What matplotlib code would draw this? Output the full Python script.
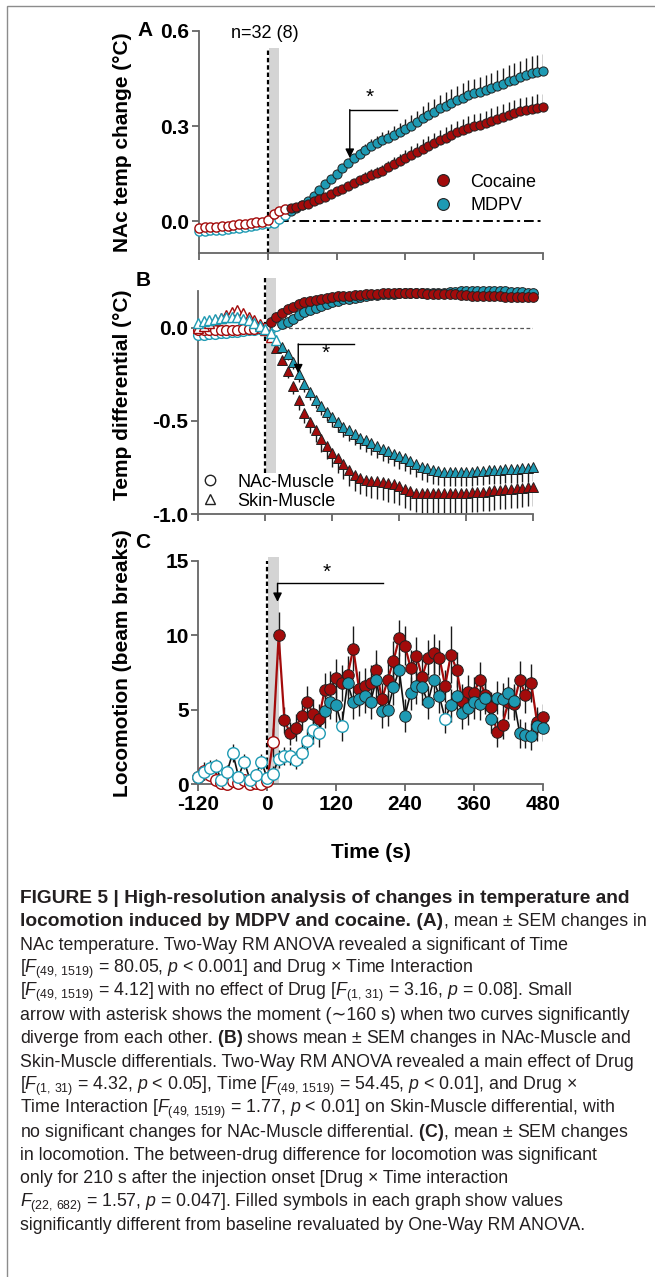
import numpy as np
import matplotlib
matplotlib.use("Agg")
import matplotlib.pyplot as plt
from matplotlib.lines import Line2D
from matplotlib.patches import Rectangle

plt.rcParams['font.family'] = ['Liberation Sans', 'DejaVu Sans']
plt.rcParams['axes.unicode_minus'] = False
plt.rcParams['mathtext.fontset'] = 'custom'
plt.rcParams['mathtext.rm'] = 'Liberation Sans'
plt.rcParams['mathtext.it'] = 'Liberation Sans:italic'
plt.rcParams['mathtext.bf'] = 'Liberation Sans:bold'

# ---------------- data ----------------
TIME = list(range(-120, 481, 10))          # 10-s bins
XTICKS = [-120, 0, 120, 240, 360, 480]

# Panel A: NAc temperature change (deg C)
A_COC = [-0.020, -0.019, -0.018, -0.017, -0.015, -0.014, -0.012, -0.010, -0.008, -0.006, -0.003, -0.001,
         0.003, 0.022, 0.032, 0.038, 0.041, 0.046, 0.050, 0.056, 0.063, 0.071,
         0.078, 0.086, 0.094, 0.102, 0.111, 0.120, 0.129, 0.138, 0.147, 0.153,
         0.160, 0.170, 0.180, 0.189, 0.199, 0.209, 0.219, 0.229, 0.238, 0.246,
         0.255, 0.263, 0.272, 0.281, 0.288, 0.295, 0.300, 0.305, 0.311, 0.317,
         0.323, 0.329, 0.336, 0.342, 0.347, 0.351, 0.354, 0.357, 0.359]
A_COC_SEM = [0.004] * 12 + [
         0.004, 0.004, 0.004, 0.004, 0.004, 0.004, 0.005, 0.006, 0.007, 0.008,
         0.009, 0.010, 0.011, 0.012, 0.013, 0.014, 0.015, 0.016, 0.017, 0.018,
         0.019, 0.020, 0.022, 0.024, 0.026, 0.027, 0.029, 0.030, 0.031, 0.032,
         0.033, 0.034, 0.035, 0.036, 0.036, 0.037, 0.037, 0.038, 0.038, 0.039,
         0.039, 0.040, 0.040, 0.041, 0.041, 0.042, 0.042, 0.043, 0.043]
A_MDPV = [-0.032, -0.031, -0.029, -0.028, -0.026, -0.024, -0.022, -0.020, -0.017, -0.014, -0.011, -0.008,
          -0.006, -0.004, 0.008, 0.020, 0.032, 0.042, 0.052, 0.065, 0.080, 0.100,
          0.118, 0.134, 0.150, 0.168, 0.184, 0.198, 0.211, 0.225, 0.238, 0.248,
          0.256, 0.263, 0.272, 0.281, 0.291, 0.302, 0.313, 0.325, 0.336, 0.346,
          0.356, 0.365, 0.374, 0.382, 0.390, 0.397, 0.403, 0.408, 0.414, 0.420,
          0.427, 0.434, 0.441, 0.447, 0.454, 0.461, 0.467, 0.470, 0.474]
A_MDPV_SEM = [0.004] * 12 + [
          0.004, 0.004, 0.004, 0.005, 0.005, 0.006, 0.006, 0.007, 0.007, 0.008,
          0.009, 0.010, 0.011, 0.012, 0.013, 0.014, 0.016, 0.018, 0.020, 0.022,
          0.024, 0.026, 0.028, 0.030, 0.032, 0.034, 0.036, 0.038, 0.040, 0.041,
          0.042, 0.043, 0.044, 0.045, 0.046, 0.047, 0.047, 0.048, 0.048, 0.049,
          0.050, 0.050, 0.051, 0.052, 0.052, 0.053, 0.054, 0.054, 0.055]
A_COC_SIG_FROM = 40
A_MDPV_SIG_FROM = 40

# Panel B: temperature differentials (deg C)
B_COC_NAC = [-0.012, -0.013, -0.013, -0.012, -0.011, -0.010, -0.010, -0.009, -0.008, -0.007, -0.005, -0.003,
             0.000, 0.030, 0.060, 0.082, 0.100, 0.115, 0.128, 0.138, 0.146, 0.152,
             0.158, 0.163, 0.166, 0.169, 0.171, 0.173, 0.175, 0.178, 0.180, 0.182,
             0.184, 0.185, 0.186, 0.186, 0.187, 0.186, 0.186, 0.185, 0.185, 0.184,
             0.184, 0.183, 0.182, 0.181, 0.180, 0.178, 0.176, 0.174, 0.173, 0.172,
             0.171, 0.170, 0.169, 0.168, 0.167, 0.166, 0.166, 0.165, 0.165]
B_MDPV_NAC = [-0.038, -0.036, -0.034, -0.032, -0.030, -0.027, -0.024, -0.021, -0.017, -0.013, -0.009, -0.005,
              -0.002, 0.000, 0.010, 0.022, 0.034, 0.050, 0.068, 0.083, 0.096, 0.107,
              0.118, 0.129, 0.138, 0.146, 0.153, 0.158, 0.163, 0.168, 0.172, 0.176,
              0.179, 0.181, 0.183, 0.184, 0.185, 0.186, 0.186, 0.187, 0.187, 0.188,
              0.188, 0.189, 0.190, 0.192, 0.194, 0.196, 0.197, 0.198, 0.198, 0.198,
              0.197, 0.197, 0.197, 0.196, 0.195, 0.194, 0.192, 0.190, 0.188]
B_COC_SKIN = [0.000, 0.010, 0.025, 0.040, 0.055, 0.070, 0.085, 0.095, 0.080, 0.060, 0.040, 0.020,
              -0.010, -0.050, -0.110, -0.170, -0.230, -0.310, -0.390, -0.455, -0.505, -0.550,
              -0.595, -0.635, -0.670, -0.700, -0.730, -0.765, -0.790, -0.805, -0.815, -0.820,
              -0.825, -0.830, -0.835, -0.840, -0.850, -0.865, -0.878, -0.885, -0.889, -0.889,
              -0.889, -0.889, -0.889, -0.889, -0.889, -0.888, -0.886, -0.884, -0.882, -0.880,
              -0.876, -0.873, -0.870, -0.868, -0.866, -0.862, -0.860, -0.856, -0.853]
B_MDPV_SKIN = [0.025, 0.035, 0.045, 0.050, 0.055, 0.058, 0.060, 0.058, 0.050, 0.040, 0.025, 0.010,
               -0.005, -0.030, -0.065, -0.100, -0.140, -0.185, -0.250, -0.300, -0.345, -0.385,
               -0.420, -0.450, -0.480, -0.505, -0.530, -0.550, -0.570, -0.590, -0.605, -0.620,
               -0.635, -0.650, -0.660, -0.675, -0.690, -0.700, -0.715, -0.730, -0.745, -0.755,
               -0.765, -0.770, -0.772, -0.773, -0.773, -0.773, -0.773, -0.772, -0.770, -0.768,
               -0.766, -0.764, -0.762, -0.760, -0.758, -0.756, -0.754, -0.752, -0.750]
B_COC_SKIN_SEM = [0.015] * 12 + [
              0.015, 0.020, 0.025, 0.030, 0.040, 0.045, 0.050, 0.055, 0.060, 0.065,
              0.070, 0.072, 0.075, 0.078, 0.080, 0.082, 0.085, 0.087, 0.090, 0.092,
              0.094, 0.096, 0.098, 0.100, 0.100, 0.102, 0.103, 0.104, 0.105, 0.105,
              0.106, 0.106, 0.107, 0.107, 0.107, 0.107, 0.107, 0.107, 0.106, 0.106,
              0.106, 0.105, 0.105, 0.105, 0.104, 0.104, 0.104, 0.103, 0.103]
B_MDPV_SKIN_SEM = [0.015] * 12 + [
              0.015, 0.015, 0.020, 0.025, 0.030, 0.035, 0.040, 0.042, 0.045, 0.048,
              0.050, 0.052, 0.054, 0.055, 0.056, 0.058, 0.060, 0.061, 0.062, 0.063,
              0.064, 0.065, 0.066, 0.067, 0.068, 0.069, 0.070, 0.071, 0.072, 0.073,
              0.074, 0.074, 0.075, 0.075, 0.075, 0.075, 0.075, 0.075, 0.075, 0.075,
              0.075, 0.075, 0.075, 0.075, 0.075, 0.075, 0.075, 0.075, 0.075]
B_COC_NAC_SIG_FROM = 10
B_MDPV_NAC_SIG_FROM = 30
B_COC_SKIN_SIG_FROM = 20
B_MDPV_SKIN_SIG_FROM = 30

# Panel C: locomotion (beam breaks)
C_COC = [0.5, 0.9, 0.6, 0.3, 0.1, 0.0, 0.2, 0.1, 0.3, 0.0, 0.1, 0.0,
         0.2, 2.8, 10.0, 4.3, 3.4, 3.8, 4.6, 5.5, 4.7, 4.4,
         6.3, 6.4, 7.1, 6.8, 7.3, 9.1, 6.4, 6.6, 6.8, 7.7,
         5.7, 7.0, 8.3, 9.8, 9.3, 7.8, 8.6, 7.2, 8.5, 8.8,
         8.5, 6.6, 8.7, 7.7, 5.6, 6.2, 6.1, 7.0, 6.0, 5.2,
         3.5, 4.0, 5.5, 5.4, 7.0, 6.0, 6.8, 4.2, 4.5]
C_COC_SEM = [0.4, 0.6, 0.4, 0.3, 0.2, 0.1, 0.3, 0.2, 0.3, 0.1, 0.2, 0.1,
             0.3, 1.0, 1.6, 0.9, 0.8, 0.9, 1.0, 1.1, 1.0, 1.0,
             1.2, 1.2, 1.3, 1.2, 1.3, 1.5, 1.2, 1.2, 1.2, 1.3,
             1.1, 1.2, 1.3, 1.2, 1.3, 1.2, 1.3, 1.2, 1.2, 1.3,
             1.2, 1.1, 1.9, 1.2, 1.1, 1.1, 1.1, 1.2, 1.1, 1.0,
             1.0, 1.0, 1.1, 1.1, 1.3, 1.2, 1.3, 1.0, 0.9]
C_MDPV = [0.5, 0.8, 1.1, 1.2, 0.3, 0.8, 2.1, 0.5, 1.5, 0.3, 0.6, 1.5,
          0.4, 0.7, 1.7, 1.9, 1.9, 1.6, 2.1, 2.9, 3.6, 3.4,
          4.9, 5.5, 5.3, 3.9, 6.8, 5.5, 5.7, 5.9, 5.5, 7.0,
          4.9, 5.0, 6.5, 7.7, 4.6, 6.1, 6.6, 6.5, 5.5, 7.0,
          5.9, 4.4, 5.3, 5.9, 4.8, 5.1, 5.5, 5.4, 5.8, 4.4,
          5.8, 5.7, 6.1, 5.6, 3.4, 3.3, 3.2, 3.9, 3.8]
C_MDPV_SEM = [0.4, 0.5, 0.5, 0.5, 0.3, 0.5, 0.6, 0.4, 0.5, 0.3, 0.4, 0.5,
              0.4, 0.5, 0.6, 0.6, 0.6, 0.6, 0.7, 0.8, 0.9, 0.9,
              1.1, 1.1, 1.1, 1.0, 1.2, 1.1, 1.1, 1.1, 1.1, 1.2,
              1.1, 1.1, 1.2, 1.2, 1.1, 1.1, 1.2, 1.2, 1.1, 1.2,
              1.1, 1.0, 1.1, 1.1, 1.1, 1.1, 1.1, 1.1, 1.1, 1.0,
              1.1, 1.1, 1.1, 1.1, 1.0, 0.9, 0.9, 1.0, 0.9]
C_COC_SIG_FROM = 20
C_MDPV_SIG_FROM = 100
C_MDPV_OPEN_AFTER = [130, 310]

CAPTION = [
    [("FIGURE 5 | High-resolution analysis of changes in temperature and", 'bold')],
    [("locomotion induced by MDPV and cocaine. (A)", 'bold'), (", mean ± SEM changes in", 'normal')],
    [("NAc temperature. Two-Way RM ANOVA revealed a significant of Time", 'normal')],
    [(r"[$F_{(49,\,1519)}$ = 80.05, $p$ < 0.001] and Drug × Time Interaction", 'normal')],
    [(r"[$F_{(49,\,1519)}$ = 4.12] with no effect of Drug [$F_{(1,\,31)}$ = 3.16, $p$ = 0.08]. Small", 'normal')],
    [("arrow with asterisk shows the moment (∼160 s) when two curves significantly", 'normal')],
    [(r"diverge from each other. $\mathbf{(B)}$ shows mean ± SEM changes in NAc-Muscle and", 'normal')],
    [("Skin-Muscle differentials. Two-Way RM ANOVA revealed a main effect of Drug", 'normal')],
    [(r"[$F_{(1,\,31)}$ = 4.32, $p$ < 0.05], Time [$F_{(49,\,1519)}$ = 54.45, $p$ < 0.01], and Drug ×", 'normal')],
    [(r"Time Interaction [$F_{(49,\,1519)}$ = 1.77, $p$ < 0.01] on Skin-Muscle differential, with", 'normal')],
    [(r"no significant changes for NAc-Muscle differential. $\mathbf{(C)}$, mean ± SEM changes", 'normal')],
    [("in locomotion. The between-drug difference for locomotion was significant", 'normal')],
    [("only for 210 s after the injection onset [Drug × Time interaction", 'normal')],
    [(r"$F_{(22,\,682)}$ = 1.57, $p$ = 0.047]. Filled symbols in each graph show values", 'normal')],
    [("significantly different from baseline revaluated by One-Way RM ANOVA.", 'normal')],
]
CAPTION_RIGHT = [632, 643, 509, 465, 568, 644, 645, 650, 578, 649, 648, 583, 493, 563, 597]

# ---------------- style ----------------
RED = '#a30b0b'
TEAL = '#1e9ab3'
EDGE = '#222222'
SPINE = '#666666'
TXT = '#231f20'
W, H = 655, 1277

fig = plt.figure(figsize=(W / 100, H / 100), dpi=100)
fig.patches.append(Rectangle((7 / W, -0.02), 1.2, 1 - 6 / H + 0.02, transform=fig.transFigure,
                             fill=False, ec='#8c8c8c', lw=1.0))


def rect(l, r, t, b):
    return [l / W, 1 - b / H, (r - l) / W, (b - t) / H]


axA = fig.add_axes(rect(199, 543, 31, 253))
axB = fig.add_axes(rect(198.3, 533.3, 290.7, 514))
axC = fig.add_axes(rect(198.3, 542.7, 561, 784))

tt = np.array(TIME)


def style(ax, yticks, ylabels, xlabels):
    for s in ['top', 'right']:
        ax.spines[s].set_visible(False)
    for s in ['left', 'bottom']:
        ax.spines[s].set_color(SPINE)
        ax.spines[s].set_linewidth(1.3)
    ax.set_xlim(-120, 480)
    ax.set_xticks(XTICKS)
    ax.set_yticks(yticks)
    ax.set_yticklabels(ylabels)
    if xlabels:
        ax.set_xticklabels([str(v) for v in XTICKS])
    else:
        ax.set_xticklabels([])
    ax.tick_params(direction='out', length=5, width=1.3, color=SPINE, labelsize=15, pad=2,
                   labelcolor='black')
    for lab in ax.get_xticklabels() + ax.get_yticklabels():
        lab.set_fontweight('bold')


def markers(ax, y, color, marker, ms, filled, z):
    y = np.asarray(y)
    f = np.asarray(filled)
    ax.plot(tt[~f], y[~f], ls='none', marker=marker, ms=ms, mfc='white', mec=color, mew=1.0,
            zorder=z, clip_on=False)
    ax.plot(tt[f], y[f], ls='none', marker=marker, ms=ms, mfc=color, mec=EDGE, mew=0.7,
            zorder=z + 0.1, clip_on=False)


# ---------------- Panel A ----------------
ax = axA
ax.set_ylim(-0.1, 0.6)
ax.axvspan(2, 20, ymin=0, ymax=(0.545 + 0.1) / 0.7, color='#d4d4d4', lw=0, zorder=0.5)
ax.axvline(0, ymin=0, ymax=(0.54 + 0.1) / 0.7, color='black', lw=1.6, ls=(0, (2.0, 1.3)), zorder=1)
ax.hlines(0, 20, 480, color='black', lw=1.4, linestyles=[(0, (5, 2, 1.5, 2))], zorder=1)
z = np.zeros(len(tt))
ax.errorbar(tt, A_MDPV, yerr=[z, A_MDPV_SEM], fmt='none', ecolor='#1a1a1a', elinewidth=1.0, zorder=2)
ax.errorbar(tt, A_COC, yerr=[z, A_COC_SEM], fmt='none', ecolor='#1a1a1a', elinewidth=1.0, zorder=2)
markers(ax, A_MDPV, TEAL, 'o', 6.6, tt >= A_MDPV_SIG_FROM, 3)
markers(ax, A_COC, RED, 'o', 6.6, tt >= A_COC_SIG_FROM, 4)
style(ax, [0.0, 0.3, 0.6], ['0.0', '0.3', '0.6'], False)
hA = [Line2D([], [], ls='none', marker='o', ms=8.5, mfc=RED, mec=EDGE, mew=0.8),
      Line2D([], [], ls='none', marker='o', ms=8.5, mfc=TEAL, mec=EDGE, mew=0.8)]
ax.legend(hA, ['Cocaine', 'MDPV'], loc='center left', bbox_to_anchor=(0.683, 0.266), frameon=False,
          fontsize=13, handlelength=1.0, handletextpad=1.0, labelspacing=0.35, borderpad=0,
          borderaxespad=0)
ax.plot([143, 225], [0.352, 0.352], color='black', lw=1.0, zorder=5)
ax.annotate('', xy=(143, 0.20), xytext=(143, 0.352),
            arrowprops=dict(arrowstyle='-|>', color='black', lw=1.0, mutation_scale=13,
                            shrinkA=0, shrinkB=0), zorder=5)
ax.text(178, 0.362, '*', ha='center', va='bottom', fontsize=15, color='black')

# ---------------- Panel B ----------------
ax = axB
ax.set_ylim(-1.0, 0.2)
ax.axvspan(2, 20, ymin=(-0.78 + 1) / 1.2, ymax=(0.27 + 1) / 1.2, color='#d4d4d4', lw=0,
           zorder=0.5, clip_on=False)
ax.axvline(0, ymin=(-0.78 + 1) / 1.2, ymax=(0.27 + 1) / 1.2, color='black', lw=1.6,
           ls=(0, (2.0, 1.3)), zorder=1, clip_on=False)
ax.hlines(0, 20, 480, color='#555555', lw=0.9, linestyles=[(0, (3, 2))], zorder=1)
ax.errorbar(tt, B_COC_SKIN, yerr=[B_COC_SKIN_SEM, z], fmt='none', ecolor='#1a1a1a',
            elinewidth=1.0, zorder=2)
ax.errorbar(tt, B_MDPV_SKIN, yerr=[B_MDPV_SKIN_SEM, z], fmt='none', ecolor='#1a1a1a',
            elinewidth=1.0, zorder=2)
markers(ax, B_MDPV_NAC, TEAL, 'o', 7.0, tt >= B_MDPV_NAC_SIG_FROM, 3)
markers(ax, B_COC_NAC, RED, 'o', 7.0, tt >= B_COC_NAC_SIG_FROM, 4)
markers(ax, B_COC_SKIN, RED, '^', 7.2, tt >= B_COC_SKIN_SIG_FROM, 5)
markers(ax, B_MDPV_SKIN, TEAL, '^', 7.2, tt >= B_MDPV_SKIN_SIG_FROM, 6)
style(ax, [-1.0, -0.5, 0.0], ['-1.0', '-0.5', '0.0'], False)
hB = [Line2D([], [], ls='none', marker='o', ms=7.5, mfc='white', mec=EDGE, mew=1.0),
      Line2D([], [], ls='none', marker='^', ms=7.5, mfc='white', mec=EDGE, mew=1.0)]
ax.legend(hB, ['NAc-Muscle', 'Skin-Muscle'], loc='center left', bbox_to_anchor=(0.008, 0.1),
          frameon=False, fontsize=13, handlelength=1.0, handletextpad=1.0, labelspacing=0.1,
          borderpad=0, borderaxespad=0)
ax.plot([59, 158], [-0.086, -0.086], color='black', lw=1.0, zorder=7)
ax.annotate('', xy=(59, -0.244), xytext=(59, -0.086),
            arrowprops=dict(arrowstyle='-|>', color='black', lw=1.0, mutation_scale=13,
                            shrinkA=0, shrinkB=0), zorder=7)
ax.text(108.5, -0.19, '*', ha='center', va='bottom', fontsize=15, color='black')

# ---------------- Panel C ----------------
ax = axC
ax.set_ylim(0, 15)
ax.axvspan(2, 20, ymin=0, ymax=15.3 / 15, color='#d4d4d4', lw=0, zorder=0.5, clip_on=False)
ax.axvline(0, ymin=0, ymax=1, color='black', lw=1.6, ls=(0, (2.0, 1.3)), zorder=1)
ax.errorbar(tt, C_COC, yerr=C_COC_SEM, fmt='none', ecolor='#1a1a1a', elinewidth=1.0, zorder=2)
ax.errorbar(tt, C_MDPV, yerr=C_MDPV_SEM, fmt='none', ecolor='#1a1a1a', elinewidth=1.0, zorder=2)
ax.plot(tt, C_COC, color=RED, lw=1.6, zorder=2.5, clip_on=False)
ax.plot(tt, C_MDPV, color='#111111', lw=1.2, zorder=2.6, clip_on=False)
markers(ax, C_COC, RED, 'o', 8.3, tt >= C_COC_SIG_FROM, 3)
c_filled = (tt >= C_MDPV_SIG_FROM) & ~np.isin(tt, C_MDPV_OPEN_AFTER)
markers(ax, C_MDPV, TEAL, 'o', 8.3, c_filled, 4)
style(ax, [0, 5, 10, 15], ['0', '5', '10', '15'], True)
ax.tick_params(axis='x', pad=3)
ax.plot([18, 201.5], [13.5, 13.5], color='black', lw=1.0, zorder=7)
ax.annotate('', xy=(18, 12.25), xytext=(18, 13.5),
            arrowprops=dict(arrowstyle='-|>', color='black', lw=1.0, mutation_scale=13,
                            shrinkA=0, shrinkB=0), zorder=7)
ax.text(104.5, 13.6, '*', ha='center', va='bottom', fontsize=15, color='black')

# ---------------- labels ----------------
fig.text(145 / W, 1 - 31 / H, 'A', fontsize=15, fontweight='bold', ha='center', va='center')
fig.text(143 / W, 1 - 280 / H, 'B', fontsize=15, fontweight='bold', ha='center', va='center')
fig.text(143 / W, 1 - 543 / H, 'C', fontsize=15, fontweight='bold', ha='center', va='center')
fig.text(265 / W, 1 - 33 / H, 'n=32 (8)', fontsize=13, ha='center', va='center')
fig.text(122 / W, 1 - 142 / H, 'NAc temp change (°C)', rotation=90, fontsize=15,
         fontweight='bold', ha='center', va='center')
fig.text(122 / W, 1 - 395 / H, 'Temp differential (°C)', rotation=90, fontsize=15,
         fontweight='bold', ha='center', va='center')
fig.text(122 / W, 1 - 663 / H, 'Locomotion (beam breaks)', rotation=90, fontsize=15,
         fontweight='bold', ha='center', va='center')
fig.text(370.5 / W, 1 - 852 / H, 'Time (s)', fontsize=15, fontweight='bold', ha='center',
         va='center')

# ---------------- caption ----------------
CAP_LEFT = 20
CAP_BASE0 = 903
CAP_STEP = 23.36
renderer = fig.canvas.get_renderer()


def draw_caption(size, bold_size):
    objs, rights = [], []
    for i, segs in enumerate(CAPTION):
        x = CAP_LEFT
        yb = H - (CAP_BASE0 + i * CAP_STEP)
        for j, (txt, wt) in enumerate(segs):
            fs = bold_size if wt == 'bold' else size
            t = fig.text(x / W, yb / H, txt, fontsize=fs, fontweight=wt, ha='left',
                         va='baseline', color=TXT)
            bb = t.get_window_extent(renderer)
            if j == 0:
                dx = CAP_LEFT + 0.5 - bb.x0
                t.set_x((x + dx) / W)
                bb = t.get_window_extent(renderer)
            x = bb.x1
            objs.append(t)
        rights.append(x)
    return objs, rights


objs, rights = draw_caption(11, 11)
ratios = [(tr - CAP_LEFT) / (r - CAP_LEFT) for tr, r in zip(CAPTION_RIGHT, rights)]
cap_size = 11 * float(np.median(ratios[2:]))
bold_size = 11 * ratios[0]
for o in objs:
    o.remove()
draw_caption(cap_size, bold_size)

fig.savefig('out.png', dpi=100)
